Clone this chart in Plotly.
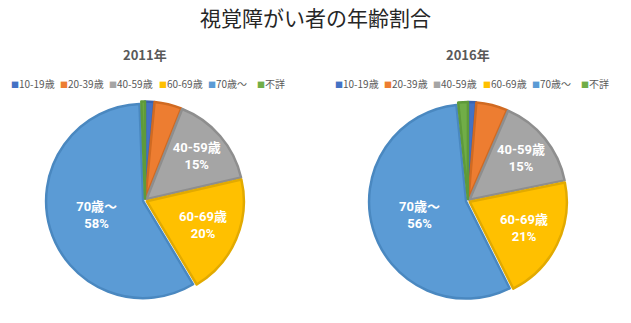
import plotly.graph_objects as go

labels = ["10-19歳", "20-39歳", "40-59歳", "60-69歳", "70歳〜", "不詳"]
values_2011 = [1.5, 4.5, 15.4, 20.0, 58.0, 0.6]
values_2016 = [1.3, 5.2, 15.3, 20.8, 55.8, 1.6]
years = ["2011年", "2016年"]
title = "視覚障がい者の年齢割合"

colors = ["#4472C4", "#ED7D31", "#A5A5A5", "#FFC000", "#5B9BD5", "#70AD47"]
edge = ["#3A63AE", "#D06A22", "#8E8E8E", "#E2AA00", "#4A88C0", "#5E9A3A"]
show_label = [False, False, True, True, True, False]

W, H = 631, 323
FONT = "Noto Sans CJK JP"
LABEL_FONT = "Roboto, 'Noto Sans CJK JP'"


def px_x(x):
    return x / W


def px_y(y):
    return 1 - y / H


tmpl = ["%{label}<br>%{percent:.0%}" if s else "" for s in show_label]

fig = go.Figure()
centers = [(145, 200.5), (468, 201)]
R = 99
for vals, (cx, cy) in zip([values_2011, values_2016], centers):
    fig.add_trace(go.Pie(
        labels=labels, values=vals, sort=False, direction="clockwise", rotation=0,
        marker=dict(colors=colors, line=dict(color=edge, width=2.5)),
        pull=0.02,
        texttemplate=tmpl, textposition="inside", insidetextorientation="horizontal",
        textfont=dict(family=LABEL_FONT, size=13, color="white", weight="bold"),
        domain=dict(x=[px_x(cx - R), px_x(cx + R)], y=[px_y(cy + R), px_y(cy - R)]),
        showlegend=False, hoverinfo="label+percent",
    ))

annotations = [dict(text=title, x=0.5, y=px_y(17), xref="paper", yref="paper",
                    xanchor="center", yanchor="middle", showarrow=False,
                    font=dict(family=FONT, size=21, color="#262626"))]
for yr, cx in zip(years, [145, 468]):
    annotations.append(dict(text=yr, x=px_x(cx), y=px_y(55), xref="paper", yref="paper",
                            xanchor="center", yanchor="middle", showarrow=False,
                            font=dict(family=FONT, size=13, color="#595959", weight="bold")))

for x0 in [9, 333]:
    for i, (lab, c) in enumerate(zip(labels, colors)):
        annotations.append(dict(
            text=f"<span style='color:{c};font-size:8px'>■</span>{lab}",
            x=px_x(x0 + i * 49.2), y=px_y(83), xref="paper", yref="paper",
            xanchor="left", yanchor="middle", showarrow=False,
            font=dict(family=FONT, size=10, color="#595959")))

fig.update_layout(
    width=W, height=H, margin=dict(l=0, r=0, t=0, b=0),
    paper_bgcolor="white", plot_bgcolor="white",
    annotations=annotations, showlegend=False,
)
fig.write_html("out.html")
